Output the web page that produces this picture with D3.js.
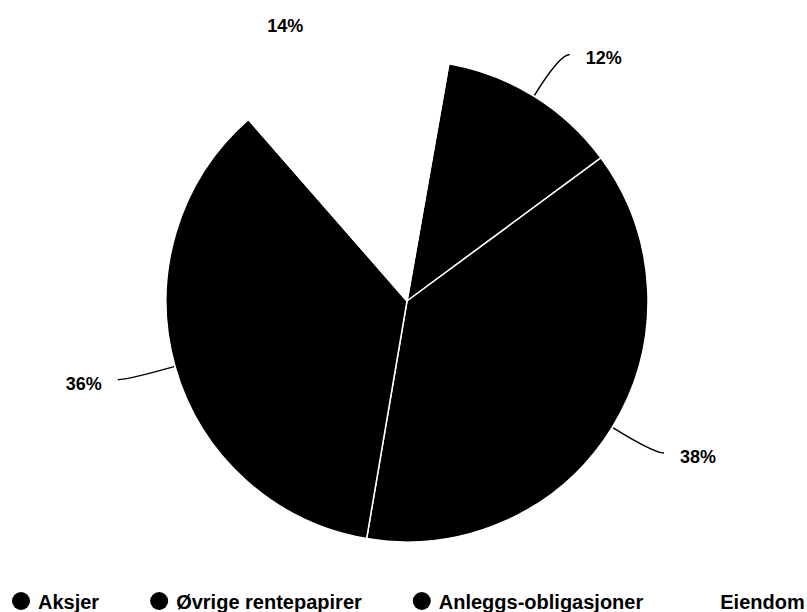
<!DOCTYPE html>
<html>
<head>
<meta charset="utf-8">
<script src="https://cdn.jsdelivr.net/npm/d3@7"></script>
<style>
  html, body { margin: 0; padding: 0; background: #fff; }
  svg { display: block; }
  text { font-family: "Liberation Sans", Arial, sans-serif; font-weight: bold; }
</style>
</head>
<body>
<svg id="chart" width="807" height="612"></svg>
<script>
// Data
const categories = ["Aksjer", "Øvrige rentepapirer", "Anleggs-obligasjoner", "Eiendom"];
const values = [12.1, 37.8, 35.9, 14.2];
const colors = ["#000000", "#000000", "#000000", "#ffffff"];

const width = 807, height = 612;
const cx = 407, cy = 301, radius = 241;
const startDeg = 10;

const svg = d3.select("#chart");
const g = svg.append("g").attr("transform", `translate(${cx},${cy})`);

const pie = d3.pie().sort(null).value(d => d)
  .startAngle(startDeg * Math.PI / 180)
  .endAngle((startDeg + 360) * Math.PI / 180);
const arcs = pie(values);

const arc = d3.arc().innerRadius(0).outerRadius(radius);

g.selectAll("path.slice").data(arcs).enter().append("path")
  .attr("class", "slice")
  .attr("d", arc)
  .attr("fill", (d, i) => colors[i])
  .attr("stroke", "#ffffff")
  .attr("stroke-width", 1.5)
  .attr("stroke-linejoin", "round");

// Leader lines and labels
const pt = (a, r) => [Math.sin(a) * r, -Math.cos(a) * r];
const fmt = v => Math.round(v) + "%";

arcs.forEach((d, i) => {
  const mid = (d.startAngle + d.endAngle) / 2;
  const right = Math.sin(mid) >= 0;
  const s = pt(mid, radius + 1);
  const c = pt(mid, radius + 49);
  const e = [c[0] + (right ? 10 : -10), c[1]];
  const path = d3.path();
  path.moveTo(s[0], s[1]);
  path.quadraticCurveTo(c[0], c[1], e[0], e[1]);
  g.append("path")
    .attr("d", path.toString())
    .attr("fill", "none")
    .attr("stroke", colors[i] === "#ffffff" ? "#ffffff" : "#000000")
    .attr("stroke-width", 1.5);
  g.append("text")
    .attr("x", e[0] + (right ? 16 : -16))
    .attr("y", e[1] + 10)
    .attr("text-anchor", right ? "start" : "end")
    .attr("font-size", 18)
    .attr("fill", "#000")
    .text(fmt(values[i]));
});

// Legend
const legend = svg.append("g").attr("transform", `translate(0, 601)`);
let x = 12;
const gap = 51;
categories.forEach((name, i) => {
  const item = legend.append("g").attr("transform", `translate(${x},0)`);
  item.append("circle")
    .attr("cx", 9).attr("cy", 0).attr("r", 9)
    .attr("fill", colors[i]);
  const t = item.append("text")
    .attr("x", 26).attr("y", 8)
    .attr("font-size", 20)
    .attr("fill", "#000")
    .text(name);
  const w = t.node().getComputedTextLength();
  x += 26 + w + gap;
});
</script>
</body>
</html>
